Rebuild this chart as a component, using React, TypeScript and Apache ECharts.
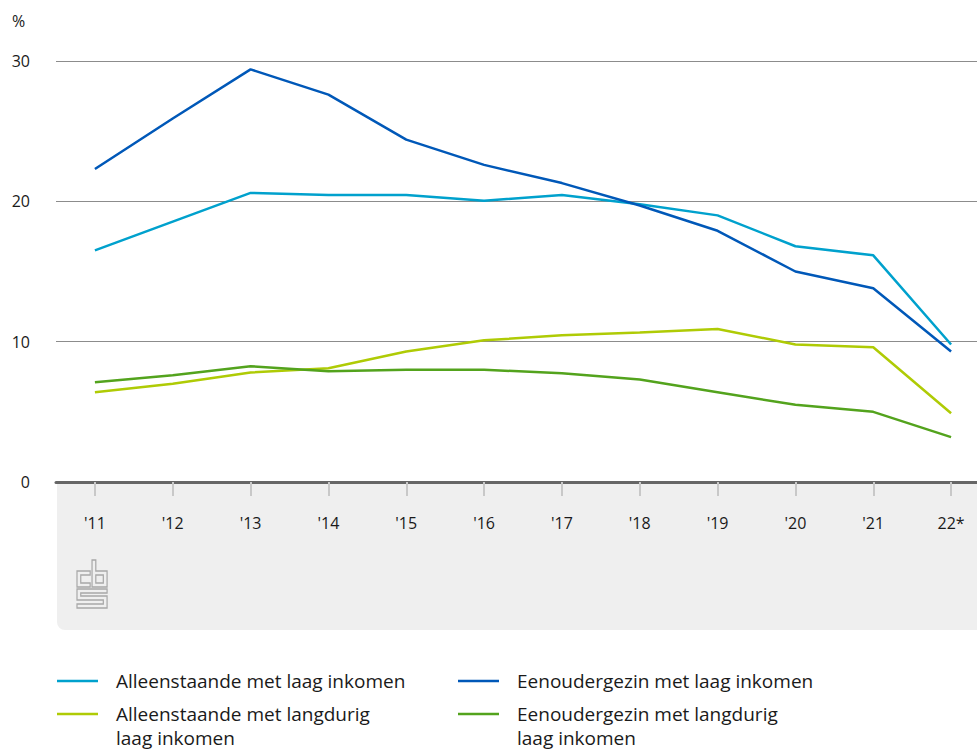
import React, { useEffect, useRef } from "react";
import * as echarts from "echarts";

const years = ["'11", "'12", "'13", "'14", "'15", "'16", "'17", "'18", "'19", "'20", "'21", "22*"];
const alleenLaag = [16.5, 18.55, 20.6, 20.45, 20.45, 20.05, 20.45, 19.8, 19.0, 16.8, 16.15, 9.8];
const eenouderLaag = [22.3, 25.9, 29.4, 27.6, 24.4, 22.6, 21.3, 19.7, 17.9, 15.0, 13.8, 9.3];
const alleenLangdurig = [6.4, 7.0, 7.8, 8.1, 9.3, 10.1, 10.45, 10.65, 10.9, 9.8, 9.6, 4.9];
const eenouderLangdurig = [7.1, 7.6, 8.25, 7.9, 8.0, 8.0, 7.75, 7.3, 6.4, 5.5, 5.0, 3.2];
const yTicks = [0, 10, 20, 30];

const seriesDefs = [
  { name: "Alleenstaande met laag inkomen", data: alleenLaag, color: "#00a1cd" },
  { name: "Eenoudergezin met laag inkomen", data: eenouderLaag, color: "#0058b8" },
  { name: "Alleenstaande met langdurig\nlaag inkomen", data: alleenLangdurig, color: "#afcb05" },
  { name: "Eenoudergezin met langdurig\nlaag inkomen", data: eenouderLangdurig, color: "#53a31d" },
];

const FONT = "'Open Sans', sans-serif";

const LOGO_D =
  "M0,11 H14 V15 H4 V23 H14 V27 H0 Z " +
  "M16,0 H20 V11 H32 V27 H16 Z " +
  "M20,15 H28 V23 H20 Z " +
  "M0,29 H32 V33 H4 V36 H32 V48 H0 V44 H28 V40 H0 Z";

echarts.graphic.registerShape("cbslogo", echarts.graphic.extendPath(LOGO_D, {}) as any);

export default function App() {
  const ref = useRef<HTMLDivElement>(null);
  useEffect(() => {
    document.body.style.margin = "0";
    const chart = echarts.init(ref.current!, undefined, { renderer: "svg" });

    const legendPos = [
      { x: 57, y: 681 },
      { x: 458, y: 681 },
      { x: 57, y: 714 },
      { x: 458, y: 714 },
    ];
    const legendGraphics: any[] = [];
    seriesDefs.forEach((s, i) => {
      const p = legendPos[i];
      legendGraphics.push({
        type: "line",
        shape: { x1: p.x, y1: p.y, x2: p.x + 41, y2: p.y },
        style: { stroke: s.color, lineWidth: 2.5 },
      });
      legendGraphics.push({
        type: "text",
        x: p.x + 59,
        y: p.y - 12.5,
        style: {
          text: s.name,
          fontSize: 19,
          fontFamily: FONT,
          fill: "#1a1a1a",
          lineHeight: 24,
        },
      });
    });

    chart.setOption({
      animation: false,
      textStyle: { fontFamily: FONT },
      grid: { left: 56, top: 61, width: 934, height: 421, containLabel: false },
      xAxis: {
        type: "category",
        data: years,
        boundaryGap: true,
        axisLine: { show: true, lineStyle: { color: "#666666", width: 3 } },
        axisTick: { show: true, alignWithLabel: true, length: 14, lineStyle: { color: "#c8c8c8", width: 2 } },
        axisLabel: { margin: 33, fontSize: 16, color: "#1a1a1a", fontFamily: FONT },
        z: 5,
      },
      yAxis: {
        type: "value",
        min: 0,
        max: 30,
        interval: 10,
        axisLine: { show: false },
        axisTick: { show: false },
        axisLabel: {
          margin: 26,
          fontSize: 16,
          color: "#1a1a1a",
          fontFamily: FONT,
          formatter: (v: number) => (yTicks.includes(v) ? String(v) : ""),
        },
        splitLine: { show: true, lineStyle: { color: "#8c8c8c", width: 1 } },
      },
      graphic: [
        {
          type: "rect",
          z: -10,
          shape: { x: 57, y: 483, width: 940, height: 147, r: [0, 0, 0, 8] },
          style: { fill: "#efefef" },
        },
        {
          type: "text",
          x: 12,
          y: 13,
          style: { text: "%", fontSize: 16, fontFamily: FONT, fill: "#1a1a1a" },
        },
        {
          type: "cbslogo",
          x: 77,
          y: 560,
          scaleX: 0.94,
          scaleY: 1,
          style: { fill: "none", stroke: "#a8a8a8", lineWidth: 1.3 },
        },
        ...legendGraphics,
      ],
      series: seriesDefs.map((s) => ({
        name: s.name,
        type: "line",
        data: s.data,
        symbol: "none",
        lineStyle: { color: s.color, width: 2.5 },
        itemStyle: { color: s.color },
        z: 3,
      })),
    });
    return () => chart.dispose();
  }, []);
  return (
    <div style={{ width: 977, height: 749, overflow: "hidden", position: "relative" }}>
      <div ref={ref} style={{ width: 991, height: 749 }} />
    </div>
  );
}
